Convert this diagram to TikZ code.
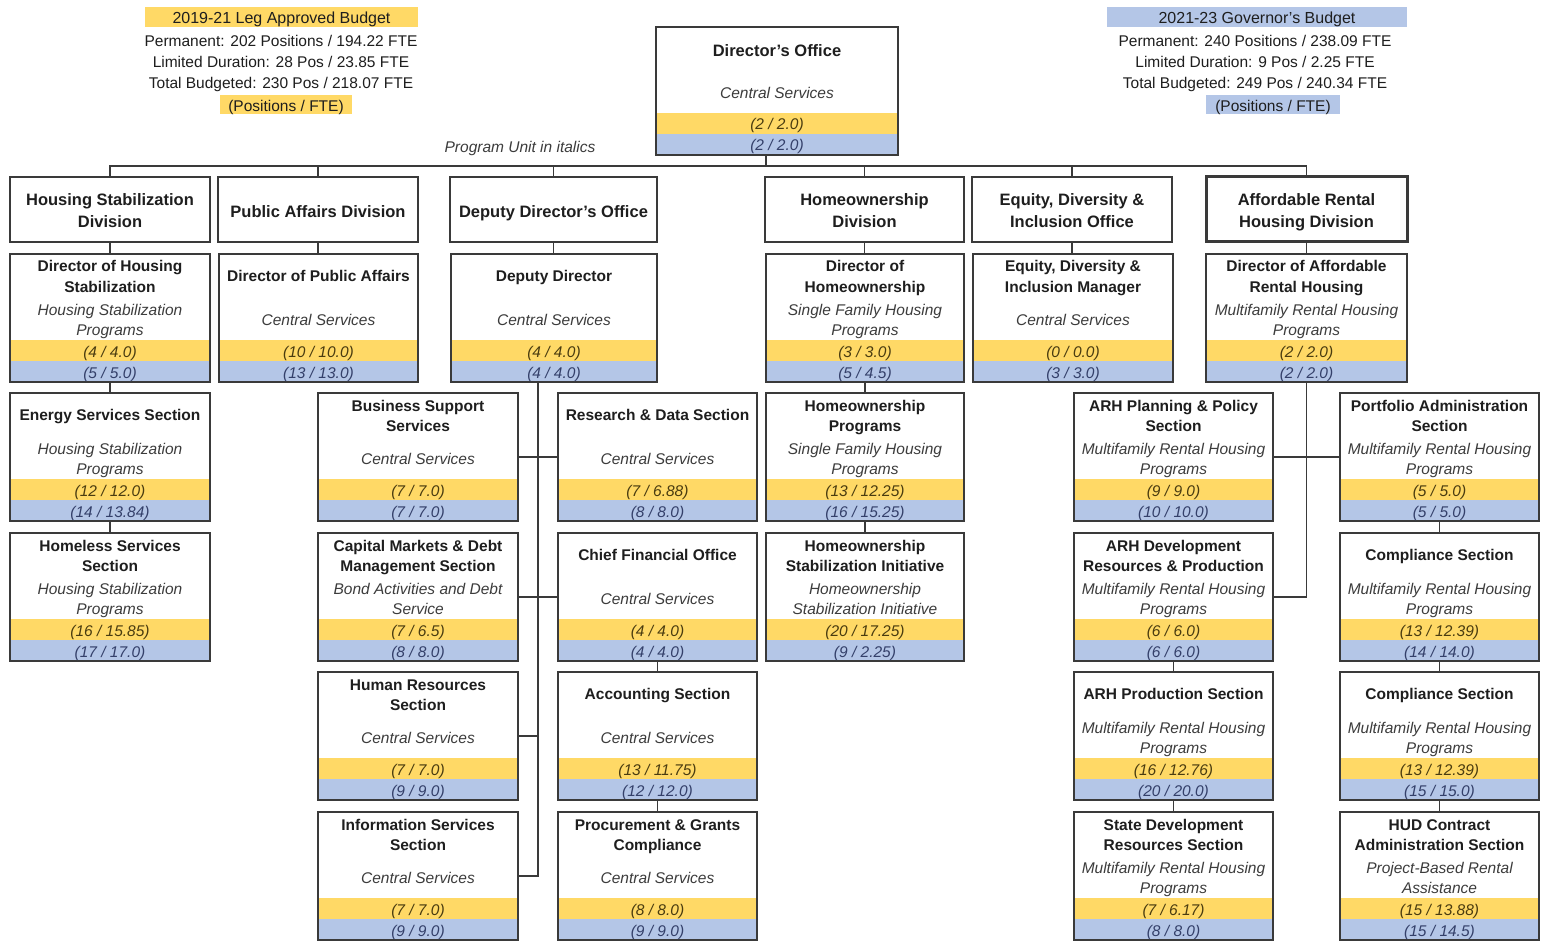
\documentclass[tikz,border=0pt]{standalone}
\usepackage{fontspec}
\setmainfont{Liberation Sans}
\usepackage{graphicx}
\definecolor{yel}{HTML}{FFD966}
\definecolor{blu}{HTML}{B4C6E7}
\definecolor{linec}{HTML}{3A3A3A}
\definecolor{txtc}{HTML}{1E1E1E}
\definecolor{itc}{HTML}{3C3C3C}
\definecolor{ytxt}{HTML}{4A3C10}
\definecolor{btxt}{HTML}{34406A}
\newlength\fitlen
\newcommand\fit[1]{\settowidth\fitlen{#1}\ifdim\fitlen>192pt\relax\resizebox{192pt}{\height}{#1}\else#1\fi}
% box with bands: #1 extra style, #2 name, #3 xL, #4 xR, #5 top
\newcommand\obox[5][]{%
  \fill[yel] (#3,#5+86) rectangle (#4,#5+107);
  \fill[blu] (#3,#5+107) rectangle (#4,#5+128);
  \node[bx,#1,minimum width={(#4-#3)*1pt},minimum height=128pt,anchor=north west] (#2) at (#3,#5) {};}
\newcommand\dvbox[4][]{%
  \node[bx,#1,minimum width={(#4-#3)*1pt},minimum height=65pt,anchor=north west] (#2) at (#3,177) {};}
\newcommand\dvA[2]{\node[dtl] (#1-t) at ([yshift=-34pt]#1.north) {\fit{#2}};}
\newcommand\dvB[3]{\node[dtl] (#1-t1) at ([yshift=-22pt]#1.north) {\fit{#2}};
  \node[dtl] (#1-t2) at ([yshift=-44pt]#1.north) {\fit{#3}};}
\newcommand\ttA[2]{\node[ttl] (#1-t) at ([yshift=-20.5pt]#1.north) {\fit{#2}};}
\newcommand\ttB[3]{\node[ttl] (#1-t1) at ([yshift=-11.5pt]#1.north) {\fit{#2}};
  \node[ttl] (#1-t2) at ([yshift=-31.5pt]#1.north) {\fit{#3}};}
\newcommand\itA[2]{\node[itl] (#1-i) at ([yshift=-64.5pt]#1.north) {\fit{#2}};}
\newcommand\itB[3]{\node[itl] (#1-i1) at ([yshift=-54.5pt]#1.north) {\fit{#2}};
  \node[itl] (#1-i2) at ([yshift=-74.5pt]#1.north) {\fit{#3}};}
\newcommand\bandtx[3]{\node[ybt] (#1-y) at ([yshift=-96.5pt]#1.north) {#2};
  \node[bbt] (#1-z) at ([yshift=-117.5pt]#1.north) {#3};}
\begin{document}
\begin{tikzpicture}[x=1pt,y=-1pt,
  bx/.style={draw=linec,line width=1.3pt,rectangle,inner sep=0pt,outer sep=0pt},
  txb/.style={inner sep=0pt,text height=16pt,text depth=3pt},
  dtl/.style={txb,font=\fontsize{16.5}{19}\selectfont\bfseries,text=txtc},
  ttl/.style={txb,font=\fontsize{15.5}{18}\selectfont\bfseries,text=txtc},
  itl/.style={txb,font=\fontsize{15.5}{18}\selectfont\itshape,text=itc},
  ybt/.style={txb,font=\fontsize{15.5}{18}\selectfont\itshape,text=ytxt},
  bbt/.style={txb,font=\fontsize{15.5}{18}\selectfont\itshape,text=btxt},
  lg/.style={inner sep=0pt,text height=11pt,text depth=3pt,font=\fontsize{15.5}{18}\selectfont,text=txtc},
  lgf/.style={inner sep=0pt,text height=16pt,text depth=3pt,font=\fontsize{15.5}{18}\selectfont,text=txtc},
  hdr/.style={inner sep=0pt,text height=16pt,text depth=3pt,font=\fontsize{16}{18}\selectfont,text=txtc},
  con/.style={draw=linec,line width=1.3pt}]
\fill[white] (0,0) rectangle (1541,941);
\useasboundingbox (0,0) rectangle (1541,941);

% legends
\node[hdr,fill=yel,minimum width=273pt,minimum height=20pt] (lgLh) at (281.5,17.5) {2019-21 Leg Approved Budget};
\node[lg] (lgL1) at (281,42.5) {Permanent: 202 Positions / 194.22 FTE};
\node[lg] (lgL2) at (281,63.5) {Limited Duration: 28 Pos / 23.85 FTE};
\node[lg] (lgL3) at (281,84.5) {Total Budgeted: 230 Pos / 218.07 FTE};
\node[lgf,fill=yel,minimum width=132pt,minimum height=19pt] (lgLp) at (286,105) {(Positions / FTE)};
\node[hdr,fill=blu,minimum width=300pt,minimum height=20pt] (lgRh) at (1257,17.5) {2021-23 Governor's Budget};
\node[lg] (lgR1) at (1255,42.5) {Permanent: 240 Positions / 238.09 FTE};
\node[lg] (lgR2) at (1255,63.5) {Limited Duration: 9 Pos / 2.25 FTE};
\node[lg] (lgR3) at (1255,84.5) {Total Budgeted: 249 Pos / 240.34 FTE};
\node[lgf,fill=blu,minimum width=134pt,minimum height=19pt] (lgRp) at (1273,105) {(Positions / FTE)};
\node[itl] (pui) at (520,146) {Program Unit in italics};

% director's office
\obox{dir}{656}{898}{27}
\node[dtl] (dir-t) at ([yshift=-23pt]dir.north) {Director's Office};
\node[itl] (dir-i) at ([yshift=-65pt]dir.north) {Central Services};
\bandtx{dir}{(2 / 2.0)}{(2 / 2.0)}

% row 1 divisions
\dvbox[line width=1.6pt]{hsd}{10}{210}
\dvB{hsd}{Housing Stabilization}{Division}
\dvbox[line width=1.6pt]{pad}{218}{418}
\dvA{pad}{Public Affairs Division}
\dvbox[line width=1.8pt]{ddo}{450}{657}
\dvA{ddo}{Deputy Director's Office}
\dvbox[line width=1.8pt]{hod}{765}{964}
\dvB{hod}{Homeownership}{Division}
\dvbox[line width=1.6pt]{edio}{972}{1172}
\dvB{edio}{Equity, Diversity \&}{Inclusion Office}
\dvbox[line width=3pt]{arhd}{1206}{1407}
\dvB{arhd}{Affordable Rental}{Housing Division}

% row 2
\obox{hsdir}{10}{210}{254}
\ttB{hsdir}{Director of Housing}{Stabilization}
\itB{hsdir}{Housing Stabilization}{Programs}
\bandtx{hsdir}{(4 / 4.0)}{(5 / 5.0)}
\obox{padir}{219}{418}{254}
\ttA{padir}{Director of Public Affairs}
\itA{padir}{Central Services}
\bandtx{padir}{(10 / 10.0)}{(13 / 13.0)}
\obox{ddir}{451}{657}{254}
\ttA{ddir}{Deputy Director}
\itA{ddir}{Central Services}
\bandtx{ddir}{(4 / 4.0)}{(4 / 4.0)}
\obox{hodir}{766}{964}{254}
\ttB{hodir}{Director of}{Homeownership}
\itB{hodir}{Single Family Housing}{Programs}
\bandtx{hodir}{(3 / 3.0)}{(5 / 4.5)}
\obox{edim}{973}{1173}{254}
\ttB{edim}{Equity, Diversity \&}{Inclusion Manager}
\itA{edim}{Central Services}
\bandtx{edim}{(0 / 0.0)}{(3 / 3.0)}
\obox{arhdir}{1206}{1407}{254}
\ttB{arhdir}{Director of Affordable}{Rental Housing}
\itB{arhdir}{Multifamily Rental Housing}{Programs}
\bandtx{arhdir}{(2 / 2.0)}{(2 / 2.0)}

% row 3
\obox{ess}{10}{210}{393}
\ttA{ess}{Energy Services Section}
\itB{ess}{Housing Stabilization}{Programs}
\bandtx{ess}{(12 / 12.0)}{(14 / 13.84)}
\obox{bss}{318}{518}{393}
\ttB{bss}{Business Support}{Services}
\itA{bss}{Central Services}
\bandtx{bss}{(7 / 7.0)}{(7 / 7.0)}
\obox{rds}{558}{757}{393}
\ttA{rds}{Research \& Data Section}
\itA{rds}{Central Services}
\bandtx{rds}{(7 / 6.88)}{(8 / 8.0)}
\obox{hop}{766}{964}{393}
\ttB{hop}{Homeownership}{Programs}
\itB{hop}{Single Family Housing}{Programs}
\bandtx{hop}{(13 / 12.25)}{(16 / 15.25)}
\obox{arhpp}{1074}{1273}{393}
\ttB{arhpp}{ARH Planning \& Policy}{Section}
\itB{arhpp}{Multifamily Rental Housing}{Programs}
\bandtx{arhpp}{(9 / 9.0)}{(10 / 10.0)}
\obox{pas}{1340}{1539}{393}
\ttB{pas}{Portfolio Administration}{Section}
\itB{pas}{Multifamily Rental Housing}{Programs}
\bandtx{pas}{(5 / 5.0)}{(5 / 5.0)}

% row 4
\obox{hss}{10}{210}{533}
\ttB{hss}{Homeless Services}{Section}
\itB{hss}{Housing Stabilization}{Programs}
\bandtx{hss}{(16 / 15.85)}{(17 / 17.0)}
\obox{cmd}{318}{518}{533}
\ttB{cmd}{Capital Markets \& Debt}{Management Section}
\itB{cmd}{Bond Activities and Debt}{Service}
\bandtx{cmd}{(7 / 6.5)}{(8 / 8.0)}
\obox{cfo}{558}{757}{533}
\ttA{cfo}{Chief Financial Office}
\itA{cfo}{Central Services}
\bandtx{cfo}{(4 / 4.0)}{(4 / 4.0)}
\obox{hsi}{766}{964}{533}
\ttB{hsi}{Homeownership}{Stabilization Initiative}
\itB{hsi}{Homeownership}{Stabilization Initiative}
\bandtx{hsi}{(20 / 17.25)}{(9 / 2.25)}
\obox{arhdev}{1074}{1273}{533}
\ttB{arhdev}{ARH Development}{Resources \& Production}
\itB{arhdev}{Multifamily Rental Housing}{Programs}
\bandtx{arhdev}{(6 / 6.0)}{(6 / 6.0)}
\obox{csa}{1340}{1539}{533}
\ttA{csa}{Compliance Section}
\itB{csa}{Multifamily Rental Housing}{Programs}
\bandtx{csa}{(13 / 12.39)}{(14 / 14.0)}

% row 5
\obox{hr}{318}{518}{672}
\ttB{hr}{Human Resources}{Section}
\itA{hr}{Central Services}
\bandtx{hr}{(7 / 7.0)}{(9 / 9.0)}
\obox{acc}{558}{757}{672}
\ttA{acc}{Accounting Section}
\itA{acc}{Central Services}
\bandtx{acc}{(13 / 11.75)}{(12 / 12.0)}
\obox{arhprod}{1074}{1273}{672}
\ttA{arhprod}{ARH Production Section}
\itB{arhprod}{Multifamily Rental Housing}{Programs}
\bandtx{arhprod}{(16 / 12.76)}{(20 / 20.0)}
\obox{csb}{1340}{1539}{672}
\ttA{csb}{Compliance Section}
\itB{csb}{Multifamily Rental Housing}{Programs}
\bandtx{csb}{(13 / 12.39)}{(15 / 15.0)}

% row 6
\obox{iss}{318}{518}{812}
\ttB{iss}{Information Services}{Section}
\itA{iss}{Central Services}
\bandtx{iss}{(7 / 7.0)}{(9 / 9.0)}
\obox{pgc}{558}{757}{812}
\ttB{pgc}{Procurement \& Grants}{Compliance}
\itA{pgc}{Central Services}
\bandtx{pgc}{(8 / 8.0)}{(9 / 9.0)}
\obox{sdr}{1074}{1273}{812}
\ttB{sdr}{State Development}{Resources Section}
\itB{sdr}{Multifamily Rental Housing}{Programs}
\bandtx{sdr}{(7 / 6.17)}{(8 / 8.0)}
\obox{hud}{1340}{1539}{812}
\ttB{hud}{HUD Contract}{Administration Section}
\itB{hud}{Project-Based Rental}{Assistance}
\bandtx{hud}{(15 / 13.88)}{(15 / 14.5)}

% connectors
\coordinate (bus) at (766,166);
\draw[con] ([xshift=-11pt]dir.south) -- (bus);
\draw[con] (hsd.north) -- (hsd.north |- bus) -- (arhd.north |- bus) -- (arhd.north);
\foreach \n in {pad,ddo,hod,edio} \draw[con] (\n.north) -- (\n.north |- bus);
\draw[con] (hsd.south) -- (hsd.south |- hsdir.north);
\draw[con] (pad.south) -- (pad.south |- padir.north);
\draw[con] (ddo.south) -- (ddo.south |- ddir.north);
\draw[con] (hod.south) -- (hod.south |- hodir.north);
\draw[con] (edio.south) -- (edio.south |- edim.north);
\draw[con] (arhd.south) -- (arhd.south |- arhdir.north);
\draw[con] (hsdir.south) -- (ess.north);
\draw[con] (ess.south) -- (hss.north);
\coordinate (dsp) at ([xshift=20pt]iss.east);
\draw[con] (ddir.south -| dsp) -- (dsp) -- (iss.east);
\draw[con] (bss.east) -- (rds.west);
\draw[con] (cmd.east) -- (cfo.west);
\draw[con] (hr.east) -- (hr.east -| dsp);
\draw[con] (cfo.south) -- (acc.north);
\draw[con] (acc.south) -- (pgc.north);
\draw[con] (hodir.south) -- (hop.north);
\draw[con] (hop.south) -- (hsi.north);
\draw[con] (arhdir.south) -- (arhdir.south |- arhdev.east) -- (arhdev.east);
\draw[con] (arhpp.east) -- (pas.west);
\draw[con] (arhdev.south) -- (arhprod.north);
\draw[con] (arhprod.south) -- (sdr.north);
\draw[con] (pas.south) -- (csa.north);
\draw[con] (csa.south) -- (csb.north);
\draw[con] (csb.south) -- (hud.north);
\end{tikzpicture}
\end{document}
